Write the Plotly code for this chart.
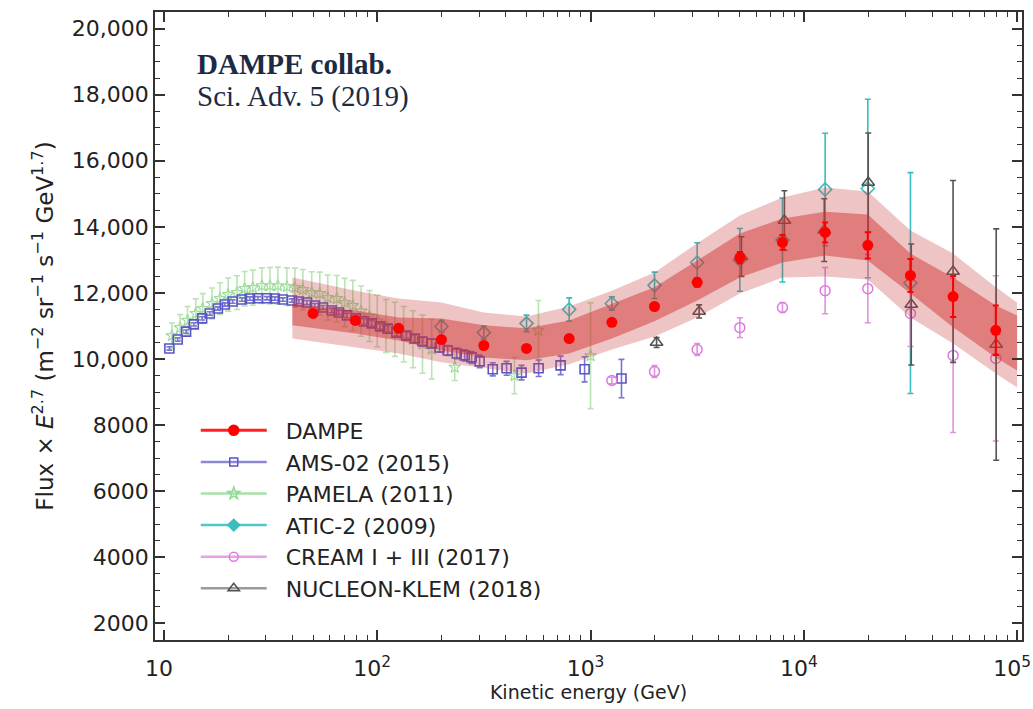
import plotly.graph_objects as go

# ---------------- data ----------------
dampe_E = [50, 79, 126, 200, 316, 501, 794, 1259, 1995, 3162, 5012, 7943,
           12589, 19953, 31623, 50119, 79433]
dampe_F = [11380, 11170, 10930, 10590, 10410, 10320, 10620, 11110, 11590, 12320,
           13070, 13530, 13830, 13440, 12530, 11890, 10870]
dampe_err = [40, 40, 40, 40, 40, 50, 60, 80, 100, 130, 170, 220, 300, 400, 500, 620, 750]

band_E = [40, 79, 126, 200, 316, 501, 794, 1259, 1995, 3162, 5012, 7943,
          12589, 19953, 31623, 50119, 79433, 100000]
band_outer_hi = [12470, 12070, 11830, 11710, 11410, 11290, 11590, 12070, 12620, 13500,
                 14340, 14890, 15190, 15070, 13890, 13190, 12170, 11710]
band_inner_hi = [11680, 11470, 11260, 11230, 11020, 10930, 11170, 11680, 12170, 12980,
                 13800, 14250, 14460, 14370, 13190, 12470, 11620, 11320]
band_inner_lo = [11020, 10770, 10560, 10260, 10050, 9960, 10170, 10620, 11140, 11770,
                 12470, 12920, 13130, 12980, 11980, 10960, 10050, 9650]
band_outer_lo = [10620, 10350, 10170, 9900, 9720, 9560, 9840, 10290, 10680, 11260,
                 11980, 12470, 12500, 12410, 11260, 10470, 9560, 9140]

ams_E = [10.6, 11.6, 12.7, 13.8, 15.1, 16.4, 17.9, 19.3, 21.0, 23.2, 25.3, 27.6, 30.4,
         33.1, 36.1, 39.8, 42.9, 46.8, 51.0, 55.6, 61.2, 66.0, 72.0, 79.3, 86.5, 94.2,
         103, 112, 123, 137, 150, 163, 180, 196, 214, 236, 257, 277, 302, 348, 404,
         475, 571, 724, 938, 1397]
ams_F = [10320, 10590, 10830, 11050, 11230, 11380, 11530, 11650, 11740, 11800, 11830,
         11840, 11840, 11830, 11800, 11770, 11740, 11710, 11620, 11560, 11470, 11410,
         11320, 11230, 11140, 11080, 10990, 10920, 10800, 10710, 10620, 10530, 10470,
         10350, 10260, 10170, 10110, 10050, 9930, 9690, 9720, 9590, 9720, 9810, 9690,
         9410]
ams_err = [50, 50, 50, 50, 50, 50, 50, 50, 50, 50, 50, 50, 50, 50, 50, 50, 60, 60, 60,
           60, 70, 70, 70, 80, 80, 90, 90, 100, 100, 110, 110, 120, 130, 140, 150, 160,
           170, 180, 190, 200, 210, 220, 250, 280, 380, 580]

pamela_E = [10.9, 11.9, 12.9, 14.1, 15.2, 16.8, 18.3, 20.0, 22.0, 23.9, 26.1, 28.8, 31.4,
            34.2, 37.7, 41.1, 44.8, 49.3, 53.8, 58.6, 64.6, 70.4, 76.8, 84, 92, 100,
            110, 121, 133, 147, 163, 180, 231, 440, 570, 1000]
pamela_F = [10710, 10950, 11170, 11380, 11530, 11680, 11830, 11950, 12010, 12130, 12160,
            12220, 12220, 12220, 12190, 12160, 12100, 12010, 11980, 11860, 11830, 11710,
            11620, 11450, 11300, 11150, 11000, 10900, 10750, 10600, 10450, 10300, 9750,
            9500, 10870, 10100]
pamela_err = [380, 400, 420, 440, 450, 470, 480, 500, 510, 520, 530, 540, 550, 560, 570,
              590, 610, 630, 650, 680, 700, 730, 760, 760, 770, 780, 800, 820, 840, 860,
              880, 900, 400, 550, 900, 1600]

atic_E = [200, 316, 501, 794, 1259, 1995, 3162, 5012, 7943, 12589, 19953, 31623]
atic_F = [10985, 10800, 11080, 11500, 11680, 12230, 12920, 13000, 13600, 15130, 15160, 12300]
atic_err = [180, 200, 250, 350, 200, 400, 600, 950, 1270, 1700, 2700, 3340]

cream_E = [1259, 1995, 3162, 5012, 7943, 12589, 19953, 31623, 50119, 79433]
cream_F = [9350, 9620, 10290, 10950, 11560, 12070, 12130, 11380, 10110, 10020]
cream_err = [100, 180, 180, 300, 150, 700, 1030, 1000, 2330, 2500]

nucleon_E = [2040, 3230, 5100, 8110, 12470, 20050, 31900, 50100, 79800]
nucleon_F = [10500, 11440, 13100, 14190, 13900, 15340, 11650, 12650, 10440]
nucleon_err = [150, 200, 600, 900, 950, 1500, 1830, 2750, 3500]

y_ticks = [2000, 4000, 6000, 8000, 10000, 12000, 14000, 16000, 18000, 20000]
y_ticklabels = ["2000", "4000", "6000", "8000", "10,000", "12,000", "14,000",
                "16,000", "18,000", "20,000"]
x_ticks = [10, 100, 1000, 10000, 100000]
x_ticklabels = ["10", "10<sup>2</sup>", "10<sup>3</sup>", "10<sup>4</sup>", "10<sup>5</sup>"]

# ---------------- styles ----------------
FONT = "DejaVu Sans"
C_DAMPE = "#ff0000"
C_AMS = "#5a55c8"
C_PAM = "#8fd88f"
C_ATIC = "#3cbcbc"
C_CREAM = "#e07ae0"
C_NUC = "#505050"

fig = go.Figure()


def add_exp(E, F, err, color, symbol, size, lw, ecolor, opacity=1.0):
    fig.add_trace(go.Scatter(
        x=E, y=F, mode="markers", showlegend=False, opacity=opacity,
        marker=dict(symbol=symbol, size=size, color=color,
                    line=dict(color=color, width=lw)),
        error_y=dict(type="data", array=err, color=ecolor, thickness=1.6, width=3),
        hoverinfo="x+y"))


add_exp(pamela_E, pamela_F, pamela_err, C_PAM, "star-open", 9, 1.2, "#b0e0a8", 0.85)
add_exp(ams_E, ams_F, ams_err, C_AMS, "square-open", 9, 1.6, "#7a76d0")
add_exp(atic_E, atic_F, atic_err, C_ATIC, "diamond-open", 10, 1.6, C_ATIC)
add_exp(cream_E, cream_F, cream_err, C_CREAM, "circle-open", 10, 1.5, "#e090e0")
add_exp(nucleon_E, nucleon_F, nucleon_err, C_NUC, "triangle-up-open", 11, 1.5, "#555555")

# DAMPE systematic bands
fig.add_trace(go.Scatter(
    x=band_E + band_E[::-1], y=band_outer_hi + band_outer_lo[::-1],
    mode="lines", fill="toself", fillcolor="rgba(200,60,60,0.30)",
    line=dict(width=0), showlegend=False, hoverinfo="skip"))
fig.add_trace(go.Scatter(
    x=band_E + band_E[::-1], y=band_inner_hi + band_inner_lo[::-1],
    mode="lines", fill="toself", fillcolor="rgba(210,50,50,0.48)",
    line=dict(width=0), showlegend=False, hoverinfo="skip"))

# DAMPE points
fig.add_trace(go.Scatter(
    x=dampe_E, y=dampe_F, mode="markers", showlegend=False,
    marker=dict(symbol="circle", size=11, color=C_DAMPE),
    error_y=dict(type="data", array=dampe_err, color=C_DAMPE, thickness=2, width=3)))

# legend entries
NB = "\u00a0\u00a0"
legend_items = [
    ("DAMPE", C_DAMPE, "#ff2020", "circle", 10, 3),
    ("AMS-02 (2015)", C_AMS, "#8c88d8", "square-open", 8, 2.5),
    ("PAMELA (2011)", C_PAM, "#a8e0a8", "star-open", 9, 2.5),
    ("ATIC-2 (2009)", C_ATIC, "#50c8c8", "diamond", 9, 2.5),
    ("CREAM I + III (2017)", C_CREAM, "#e8a0e8", "circle-open", 9, 2.5),
    ("NUCLEON-KLEM (2018)", C_NUC, "#9a9a9a", "triangle-up-open", 10, 2.5),
]
for name, mcol, lcol, sym, sz, lw in legend_items:
    fig.add_trace(go.Scatter(
        x=[None], y=[None], mode="lines+markers", name=NB + name,
        line=dict(color=lcol, width=lw),
        marker=dict(symbol=sym, size=sz, color=mcol, line=dict(color=mcol, width=1.5))))

axis_common = dict(
    showline=True, linecolor="#333333", linewidth=1.5, mirror="ticks",
    ticks="inside", ticklen=10, tickwidth=1.5, tickcolor="#333333",
    showgrid=False, zeroline=False, automargin=False,
    tickfont=dict(family=FONT, size=22, color="#222222"),
)

fig.update_layout(
    width=1033, height=709,
    margin=dict(l=155, r=11, t=12, b=69),
    paper_bgcolor="white", plot_bgcolor="white",
    xaxis=dict(type="log", range=[0.958, 5.023], tickmode="array",
               tickvals=x_ticks, ticktext=x_ticklabels, ticklabelstandoff=8,
               ticklabelshift=-5, ticklabeloverflow="allow",
               minor=dict(ticks="inside", ticklen=5, tickwidth=1.2, tickcolor="#333333",
                          dtick="D1", showgrid=False),
               title=dict(text="Kinetic energy (GeV)",
                          font=dict(family=FONT, size=19, color="#222222"), standoff=2),
               **axis_common),
    yaxis=dict(range=[1500, 20500], tickmode="array", tickvals=y_ticks,
               ticktext=y_ticklabels,
               minor=dict(ticks="inside", ticklen=5, tickwidth=1.2, tickcolor="#333333",
                          tick0=0, dtick=500, showgrid=False),
               title=dict(text="Flux × <i>E</i><sup>2.7</sup> (m<sup>−2</sup> sr<sup>−1</sup> "
                               "s<sup>−1</sup> GeV<sup>1.7</sup>)",
                          font=dict(family=FONT, size=23, color="#222222"), standoff=12),
               **axis_common),
    legend=dict(x=0.047, y=0.367, xanchor="left", yanchor="top",
                bgcolor="rgba(0,0,0,0)", itemwidth=66,
                font=dict(family=FONT, size=22, color="#222222"),
                tracegroupgap=0),
    annotations=[
        dict(text="<b>DAMPE collab.</b>", xref="paper", yref="paper", x=0.046, y=0.917,
             xanchor="left", yanchor="middle", showarrow=False,
             font=dict(family="Liberation Serif", size=29, color="#1c2b45")),
        dict(text="Sci. Adv. 5 (2019)", xref="paper", yref="paper", x=0.046, y=0.865,
             xanchor="left", yanchor="middle", showarrow=False,
             font=dict(family="Liberation Serif", size=29, color="#1c2b45")),
    ],
)

fig.write_html("out.html",
               config={"displayModeBar": False},
               post_script="document.body.style.margin='0';"
                           "document.body.style.overflow='hidden';")
